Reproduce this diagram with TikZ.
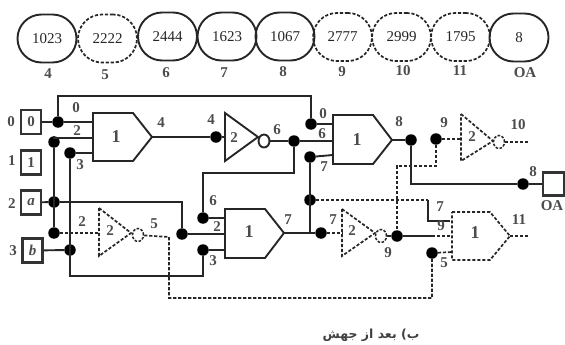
\documentclass[tikz,border=0pt]{standalone}
\usepackage{fontspec}
\setmainfont{Liberation Serif}
\newfontfamily\arabicfont[Script=Arabic]{DejaVu Sans}
\TeXXeTstate=1
\usetikzlibrary{shapes.geometric}
\tikzset{
  sol/.style={line width=1.9pt,draw=black!85},
  das/.style={line width=1.7pt,draw=black!85,dash pattern=on 3.2pt off 1.8pt},
  val/.style={draw=black!85,line width=1.9pt,rounded corners=24pt,minimum width=59pt,minimum height=48pt,inner sep=0pt,font=\fontsize{15}{15}\selectfont,text=black!85},
  vald/.style={val,line width=1.7pt,dash pattern=on 3.2pt off 1.8pt},
  txt/.style={inner sep=0pt,font=\fontsize{15}{15}\selectfont\bfseries,text=black!70},
  big/.style={txt,font=\fontsize{18}{18}\selectfont\bfseries},
  inp/.style={txt,draw=black!80,line width=2.2pt,minimum width=20pt,minimum height=24pt},
  dotn/.style={circle,fill=black,draw=none,minimum size=11.5pt,inner sep=0pt},
  bub/.style={ellipse,draw=black!85,line width=1.9pt,fill=white,minimum width=11pt,minimum height=13pt,inner sep=0pt},
  bubd/.style={bub,line width=1.5pt,dash pattern=on 2.6pt off 1.5pt},
}
\begin{document}
\begin{tikzpicture}[x=1pt,y=-1pt]
\useasboundingbox (0,0) rectangle (565,345);
% value ovals
\node[val]  (v4)  at (47,38.5) {1023};
\node[vald] (v5)  at (107.5,38.5) {2222};
\node[val]  (v6)  at (167.5,36.5) {2444};
\node[val]  (v7)  at (227,36.5) {1623};
\node[val]  (v8)  at (285,36.5) {1067};
\node[vald] (v9)  at (342.5,37) {2777};
\node[vald] (v10) at (401.5,37) {2999};
\node[vald] (v11) at (460.5,37) {1795};
\node[val]  (vOA) at (519,37.5) {8};
\foreach \x/\y/\t in {48/74/4,105/75/5,166/73/6,224/73/7,283/72/8,342/72/9,403/71/10,460/71/11,525/73/OA}
  \node[txt] at (\x,\y) {\t};
% inputs
\node[inp] (i0) at (31,122) {0};
\node[inp] (i1) at (31,162.5) {1};
\node[inp] (ia) at (31,202.5) {\textit{a}};
\node[inp] (ib) at (32.5,250.5) {\textit{b}};
\node[inp,minimum width=21pt,minimum height=23pt] (oa) at (553.5,184) {};
\foreach \x/\y/\t in {11/122/0,12/161/1,12/204/2,13/251/3}
  \node[txt] at (\x,\y) {\t};
% gates
\draw[sol] (93,113) -- (133,113) -- (152,137) coordinate (g1o) -- (133,161) -- (93,161) -- cycle;
\draw[sol] (225,209) -- (265,209) -- (284,233) coordinate (g2o) -- (265,258) -- (225,258) -- cycle;
\draw[sol] (333,115) -- (373,115) -- (392,140) coordinate (g3o) -- (373,164) -- (333,164) -- cycle;
\draw[das] (452,212) -- (490,212) -- (510,236) coordinate (g4o) -- (490,260) -- (452,260) -- cycle;
\draw[sol] (225,113) -- (258,137) coordinate (n1o) -- (225,161) -- cycle;
\draw[das] (99,208) -- (131,233) coordinate (n2o) -- (99,256) -- cycle;
\draw[das] (342,209) -- (375,233) coordinate (n3o) -- (342,256) -- cycle;
\draw[das] (461,114) -- (493,141) coordinate (n4o) -- (461,161) -- cycle;
\node[bub]  (b1) at (264,141) {};
\node[bubd] (b2) at (138,235) {};
\node[bubd] (b3) at (381,236) {};
\node[bubd] (b4) at (499,142) {};
\foreach \x/\y/\t in {116/137/1,249/232/1,357/140/1,475/233/1}
  \node[big] at (\x,\y) {\t};
\foreach \x/\y/\t in {110/231/2,234/138/2,352/231/2,472/137/2}
  \node[txt] at (\x,\y) {\t};
% junctions
\node[dotn] (d0)  at (58,122) {};
\node[dotn] (d2)  at (54,142) {};
\node[dotn] (d3)  at (70,153) {};
\node[dotn] (da)  at (54,202) {};
\node[dotn] (d2b) at (54,233) {};
\node[dotn] (db)  at (70,250) {};
\node[dotn] (d2c) at (182,234) {};
\node[dotn] (d3c) at (203,250) {};
\node[dotn] (d6c) at (203,218) {};
\node[dotn] (d4)  at (216,137) {};
\node[dotn] (d6)  at (294,141) {};
\node[dotn] (d0c) at (311,124) {};
\node[dotn] (d7c) at (310,157) {};
\node[dotn] (d7a) at (310,200) {};
\node[dotn] (d7b) at (321,233) {};
\node[dotn] (d8)  at (411,140) {};
\node[dotn] (d9t) at (436,139) {};
\node[dotn] (d8o) at (523,184) {};
\node[dotn] (d9)  at (397,236) {};
\node[dotn] (d5)  at (432,253) {};
% solid wires
\draw[sol] (i0) -- (d0) -- (93,122);
\draw[sol] (d0) |- (311,96) -- (d0c);
\draw[sol] (d2) |- (93,138);
\draw[sol] (d2) -- (d2b);
\draw[sol] (d3) -- (93,153);
\draw[sol] (d3) -- (70,276) -| (d3c);
\draw[sol] (ia) -- (da) -- (182,202) -- (d2c);
\draw[sol] (ib) -- (db);
\draw[sol] (d2c) -- (225,234);
\draw[sol] (d3c) -- (225,250);
\draw[sol] (d6c) -- (225,218);
\draw[sol] (g1o) -- (d4) -- (225,137);
\draw[sol] (b1) -- (d6) -- (333,141);
\draw[sol] (d6) |- (203,173) -- (d6c);
\draw[sol] (d0c) -- (333,124);
\draw[sol] (d7c) -- (333,155);
\draw[sol] (d7c) -- (310,233);
\draw[sol] (g2o) -- (d7b);
\draw[sol] (g3o) -- (d8);
\draw[sol] (d8) |- (d8o);
\draw[sol] (d8o) -- (oa);
\draw[sol] (b3) -- (d9) -- (432,236);
\draw[sol] (428,200) -- (428,221) -- (450,221);
% dashed wires
\draw[das] (d2b) -- (99,233);
\draw[das] (b2) -- (169,237) -- (169,298) -| (d5);
\draw[das] (d5) -- (452,252);
\draw[das] (d7b) -- (342,233);
\draw[das] (d7a) -- (428,200);
\draw[das] (d9t) -- (461,139);
\draw[das] (d9t) |- (397,166) -- (d9);
\draw[das] (b4) -- (529,142);
\draw[das] (g4o) -- (528,236);
\draw[das] (432,236) -- (452,236);
% labels
\foreach \x/\y/\t in {76/108/0,77/131/2,80/165/3,82/222/2,154/224/5,161/123/4,211/120/4,277/130/6,213/201/6,217/227/2,213/261/3,288/220/7,323/114/0,322/134/6,324/167/7,333/220/7,399/122/8,444/123/9,518/125/10,533/172/8,552/206/OA,440/207/7,441/226/9,388/253/9,444/263/5,519/220/11}
  \node[txt] at (\x,\y) {\t};
\node[inner sep=0pt,font=\arabicfont\fontsize{12.5}{14}\selectfont\bfseries,text=black!75] (cap) at (371,335) {\beginR ب) بعد از جهش\endR};
\end{tikzpicture}
\end{document}
